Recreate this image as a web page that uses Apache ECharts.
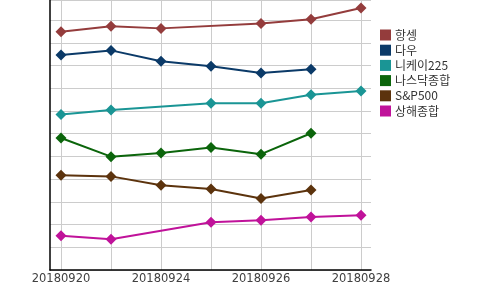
<!DOCTYPE html>
<html><head><meta charset="utf-8">
<script src="https://cdn.jsdelivr.net/npm/echarts@6/dist/echarts.min.js"></script>
<style>html,body{margin:0;padding:0;background:#fff}#c{width:500px;height:290px}</style>
</head><body><div id="c"></div>
<script>
const dates = ['20180920','20180921','20180924','20180925','20180926','20180927','20180928'];
const seriesNames = ['항셍','다우','니케이225','나스닥종합','S&P500','상해종합'];
// values (relative level, no axis labels shown)
const hangseng = [10.60, 10.84, 10.75, null, 10.97, 11.15, 11.65];
const dow      = [9.58, 9.78, 9.30, 9.08, 8.78, 8.95, null];
const nikkei   = [6.96, 7.15, null, 7.45, 7.45, 7.83, 7.99];
const nasdaq   = [5.92, 5.10, 5.26, 5.50, 5.21, 6.13, null];
const sp500    = [4.28, 4.23, 3.84, 3.67, 3.26, 3.63, null];
const shanghai = [1.62, 1.46, null, 2.21, 2.30, 2.44, 2.52];
const seriesData = [hangseng, dow, nikkei, nasdaq, sp500, shanghai];
const colors = ['#943c3c','#0b3a68','#1a9595','#0b650b','#5c330d','#c0129a'];

const yMin = 0.106, yMax = 12;
const chart = echarts.init(document.getElementById('c'), null, {renderer:'canvas'});
chart.setOption({
  animation:false,
  color: colors,
  grid:[
    {left:50, right:129, top:0, bottom:20},
    {left:61, right:139, top:0, bottom:20}
  ],
  legend:{
    orient:'vertical', left:380, top:29, padding:0,
    icon:'rect', itemWidth:11, itemHeight:11, itemGap:3.2,
    textStyle:{fontSize:12, color:'#333', fontFamily:'"Noto Sans CJK KR", sans-serif', padding:[0,0,0,-1]},
    data: seriesNames
  },
  xAxis:[
    {type:'value', gridIndex:0, min:0, max:1, axisLine:{show:true, onZero:false, lineStyle:{color:'#000', width:1.5}},
     axisTick:{show:false}, axisLabel:{show:false}, splitLine:{show:false}},
    {type:'category', gridIndex:1, data:dates, boundaryGap:false,
     axisLine:{show:false}, axisTick:{show:false},
     axisLabel:{interval:1, fontSize:11.5, color:'#404040', margin:3, fontFamily:'"DejaVu Sans", sans-serif'},
     splitLine:{show:true, interval:0, lineStyle:{color:'#cccccc', width:1}}}
  ],
  yAxis:[
    {type:'value', gridIndex:0, min:yMin, max:yMax, interval:1,
     axisLine:{show:true, lineStyle:{color:'#000', width:1.5}}, axisTick:{show:false}, axisLabel:{show:false},
     splitLine:{show:true, lineStyle:{color:'#cccccc', width:1}}},
    {type:'value', gridIndex:1, min:yMin, max:yMax, interval:1, show:false, splitLine:{show:false}}
  ],
  series: seriesNames.map((n,i)=>({
    name:n, type:'line', xAxisIndex:1, yAxisIndex:1, data:seriesData[i],
    connectNulls:true, symbol:'diamond', symbolSize:11, showSymbol:true,
    lineStyle:{width:2, color:colors[i]}, itemStyle:{color:colors[i]}
  }))
});
</script></body></html>
